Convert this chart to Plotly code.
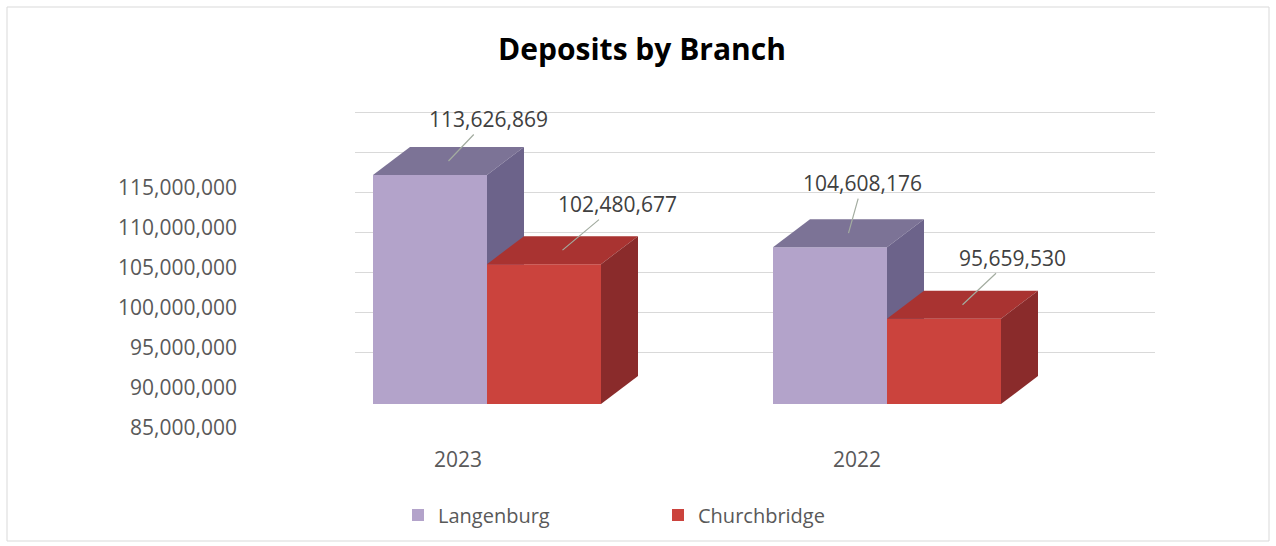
import plotly.graph_objects as go

# ---------------- data ----------------
years = ["2023", "2022"]
series_names = ["Langenburg", "Churchbridge"]
langenburg = [113626869, 104608176]
churchbridge = [102480677, 95659530]
y_tick_values = [85000000, 90000000, 95000000, 100000000, 105000000, 110000000, 115000000]

# ---------------- geometry helpers (layout only) ----------------
W, H = 1276, 546


def fx(p):
    return p / W


def fy(p):
    return 1 - p / H


BASE = 85e6            # floor of the value axis
PX_PER_UNIT = 400.0    # px per category step
PX_PER_VAL = 8.0 / 1e6 # px per value unit
BAR_W = 114 / PX_PER_UNIT
DX = 37 / PX_PER_UNIT          # depth offset (x units)
DY = 28 / PX_PER_VAL           # depth offset (value units)

CAT0_PX = 487
x_dom_px = [355, 1155]
x_rng = [(x_dom_px[0] - CAT0_PX) / PX_PER_UNIT, (x_dom_px[1] - CAT0_PX) / PX_PER_UNIT]
y_dom_px = [100, 404]   # top, bottom
y_rng = [BASE, BASE + (y_dom_px[1] - y_dom_px[0]) / PX_PER_VAL]

colors = {
    "Langenburg": {"front": "#B3A3CA", "top": "#7C7396", "side": "#6C638A"},
    "Churchbridge": {"front": "#CB433D", "top": "#A93331", "side": "#8A2B2B"},
}
axis_pairs = {"Langenburg": ("x", "y"), "Churchbridge": ("x3", "y3")}
bar_offsets = {"Langenburg": -BAR_W, "Churchbridge": 0.0}
label_shift = {
    ("Langenburg", 0): (40, -42),
    ("Churchbridge", 0): (55, -46),
    ("Langenburg", 1): (14, -50),
    ("Churchbridge", 1): (50, -47),
}

xpos = list(range(len(years)))
fig = go.Figure()
annotations = []

for name, vals in zip(series_names, [langenburg, churchbridge]):
    xa, ya = axis_pairs[name]
    off = bar_offsets[name]
    c = colors[name]
    fig.add_trace(go.Bar(
        x=xpos, y=vals, width=BAR_W, offset=off, name=name,
        marker=dict(color=c["front"], line=dict(width=0)),
        xaxis=xa, yaxis=ya,
        hovertemplate=name + ": %{y:,}<extra></extra>",
    ))
    for i, v in zip(xpos, vals):
        x0 = i + off
        x1 = x0 + BAR_W
        # top face
        fig.add_trace(go.Scatter(
            x=[x0, x1, x1 + DX, x0 + DX, x0],
            y=[v, v, v + DY, v + DY, v],
            fill="toself", fillcolor=c["top"], mode="lines",
            line=dict(width=0, color=c["top"]),
            showlegend=False, hoverinfo="skip", xaxis=xa, yaxis=ya,
        ))
        # side face
        fig.add_trace(go.Scatter(
            x=[x1, x1 + DX, x1 + DX, x1, x1],
            y=[v, v + DY, BASE + DY, BASE, v],
            fill="toself", fillcolor=c["side"], mode="lines",
            line=dict(width=0, color=c["side"]),
            showlegend=False, hoverinfo="skip", xaxis=xa, yaxis=ya,
        ))
        ax, ay = label_shift[(name, i)]
        annotations.append(dict(
            x=x0 + BAR_W / 2 + DX / 2, y=v + DY / 2, xref="x", yref="y",
            text=f"{v:,}", showarrow=True, arrowhead=0, arrowwidth=1.2,
            arrowcolor="#A3ACA0", standoff=0, ax=ax, ay=ay,
            font=dict(family="Open Sans", size=21, color="#404040"),
        ))

# empty trace so that the label axes (category / value tick labels) are drawn
fig.add_trace(go.Scatter(x=[None], y=[None], xaxis="x2", yaxis="y2",
                         showlegend=False, hoverinfo="skip", mode="markers"))

# label axes (tick labels placed as in the reference)
lab_x_dom_px = [238, 1160]
CAT0_LABEL_PX = 458
CAT_STEP_LABEL = 399
lab_x_rng = [(lab_x_dom_px[0] - CAT0_LABEL_PX) / CAT_STEP_LABEL,
             (lab_x_dom_px[1] - CAT0_LABEL_PX) / CAT_STEP_LABEL]
lab_y_dom_px = [140, 445]
Y85_PX = 428
lab_y_rng = [y_tick_values[0] - (lab_y_dom_px[1] - Y85_PX) / PX_PER_VAL,
             y_tick_values[0] + (Y85_PX - lab_y_dom_px[0]) / PX_PER_VAL]

grid_vals = [BASE + 6.5e6 + 5e6 * k for k in range(7)]

tickfont = dict(family="Open Sans", size=21, color="#595959")

fig.update_layout(
    width=W, height=H,
    margin=dict(l=0, r=0, t=0, b=0),
    paper_bgcolor="white", plot_bgcolor="rgba(0,0,0,0)",
    font=dict(family="Open Sans"),
    title=dict(text="<b>Deposits by Branch</b>", x=fx(642), xanchor="center",
               y=fy(49), yanchor="middle",
               font=dict(family="Open Sans", size=30, color="#000000")),
    xaxis=dict(domain=[fx(x_dom_px[0]), fx(x_dom_px[1])], range=x_rng,
               showticklabels=False, showgrid=False, zeroline=False,
               showline=False, ticks="", anchor="y"),
    yaxis=dict(domain=[fy(y_dom_px[1]), fy(y_dom_px[0])], range=y_rng,
               tickvals=grid_vals, showticklabels=False, showgrid=True,
               gridcolor="#D9D9D9", gridwidth=1, zeroline=False,
               showline=False, ticks="", anchor="x"),
    xaxis3=dict(overlaying="x", range=x_rng, visible=False, anchor="y"),
    yaxis3=dict(overlaying="y", range=y_rng, visible=False, anchor="x"),
    xaxis2=dict(domain=[fx(lab_x_dom_px[0]), fx(lab_x_dom_px[1])], range=lab_x_rng,
                tickvals=xpos, ticktext=years, tickfont=tickfont,
                showgrid=False, zeroline=False, showline=False, ticks="",
                anchor="y2", fixedrange=True),
    yaxis2=dict(domain=[fy(lab_y_dom_px[1]), fy(lab_y_dom_px[0])], range=lab_y_rng,
                tickvals=y_tick_values, ticktext=[f"{v:,}" for v in y_tick_values],
                tickfont=tickfont, showgrid=False, zeroline=False, showline=False,
                ticks="", anchor="x2", fixedrange=True),
    showlegend=True,
    legend=dict(orientation="h", x=fx(398), xanchor="left", y=fy(515),
                yanchor="middle", font=dict(family="Open Sans", size=20, color="#595959"),
                entrywidthmode="pixels", entrywidth=215, bgcolor="rgba(0,0,0,0)"),
    annotations=annotations,
    shapes=[dict(type="rect", xref="paper", yref="paper",
                 x0=fx(7), x1=fx(1269), y0=fy(541), y1=fy(7),
                 line=dict(color="#D9D9D9", width=1), fillcolor="rgba(0,0,0,0)",
                 layer="below")],
)

fig.write_html("out.html")
